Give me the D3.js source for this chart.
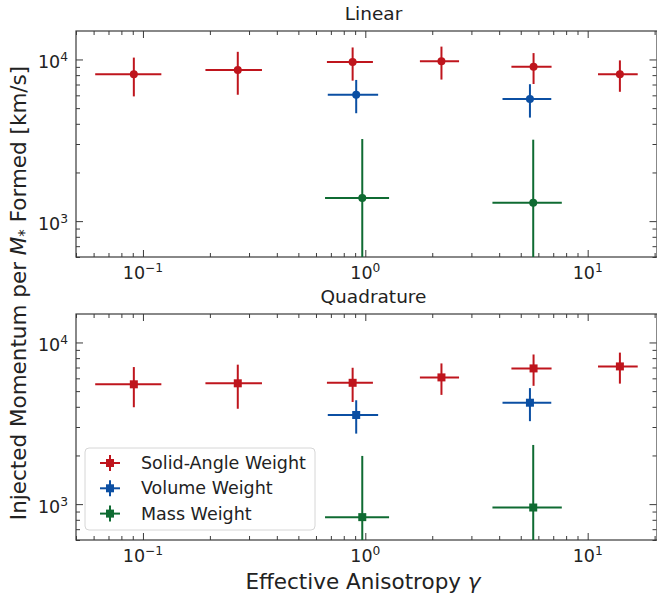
<!DOCTYPE html>
<html>
<head>
<meta charset="utf-8">
<script src="https://cdn.jsdelivr.net/npm/d3@7"></script>
<style>
  html, body { margin: 0; padding: 0; background: #fff; }
  svg { display: block; font-family: "DejaVu Sans", sans-serif; }
</style>
</head>
<body>
<svg id="chart" width="657" height="595"></svg>
<script>
// Effective anisotropy (x) with symmetric linear errors, shared by both panels
const solidX = [0.091, 0.267, 0.877, 2.20, 5.71, 13.96];
const solidXErr = [0.030, 0.076, 0.205, 0.44, 1.17, 2.83];
const volumeX = [0.910, 5.50];
const volumeXErr = [0.232, 1.36];
const massX = [0.969, 5.69];
const massXErr = [0.31, 1.96];

// Injected momentum per stellar mass formed [km/s], linear combination
const linearSolidY = [8090, 8600, 9630, 9760, 9000, 8090];
const linearSolidYErr = [2180, 2550, 2235, 2250, 1950, 1780];
const linearVolumeY = [6060, 5700];
const linearVolumeYErr = [1410, 1330];
const linearMassY = [1390, 1300];
const linearMassYErr = [1830, 1890];

// Same quantity, quadrature combination
const quadSolidY = [5510, 5590, 5630, 6080, 6910, 7110];
const quadSolidYErr = [1535, 1700, 1345, 1340, 1517, 1545];
const quadVolumeY = [3560, 4240];
const quadVolumeYErr = [830, 980];
const quadMassY = [831, 953];
const quadMassYErr = [1156, 1370];

const seriesNames = ["Solid-Angle Weight", "Volume Weight", "Mass Weight"];
const seriesColors = ["#bf151d", "#0b4fa3", "#0f6b32"];
const panelTitles = ["Linear", "Quadrature"];
const xDecades = [0.1, 1, 10];
const xDecadeExp = ["\u22121", "0", "1"];
const yDecades = [1000, 10000];
const yDecadeExp = ["3", "4"];
const xLim = [0.05, 20.5];
const yLim = [600, 15000];

const svg = d3.select("#chart");
const left = 76, right = 657;
const panels = [
  { top: 31, bottom: 257, marker: "circle",
    ys: [linearSolidY, linearVolumeY, linearMassY],
    yerrs: [linearSolidYErr, linearVolumeYErr, linearMassYErr] },
  { top: 314, bottom: 540, marker: "square",
    ys: [quadSolidY, quadVolumeY, quadMassY],
    yerrs: [quadSolidYErr, quadVolumeYErr, quadMassYErr] }
];
const xsAll = [solidX, volumeX, massX];
const xerrAll = [solidXErr, volumeXErr, massXErr];

const x = d3.scaleLog().domain(xLim).range([left, right]);

// minor ticks for a log axis: 2..9 times each decade inside the limits
function minorTicks(lo, hi) {
  const out = [];
  for (let e = Math.floor(Math.log10(lo)); e <= Math.ceil(Math.log10(hi)); e++) {
    for (let m = 2; m <= 9; m++) {
      const v = m * Math.pow(10, e);
      if (v >= lo && v <= hi) out.push(v);
    }
  }
  return out;
}
const xMinor = minorTicks(xLim[0], xLim[1]);
const yMinor = minorTicks(yLim[0], yLim[1]);
const spine = "#3a3a3a";

function powLabel(sel, base, exp, size) {
  sel.append("tspan").text(base);
  sel.append("tspan").attr("dy", -size * 0.42).attr("font-size", size * 0.7).text(exp);
}

panels.forEach((p, pi) => {
  const y = d3.scaleLog().domain(yLim).range([p.bottom, p.top]);
  const g = svg.append("g");
  const clipId = "clip" + pi;
  svg.append("clipPath").attr("id", clipId)
    .append("rect").attr("x", left).attr("y", p.top)
    .attr("width", right - left).attr("height", p.bottom - p.top);

  // ticks (inward on all four sides)
  const axes = [
    [d3.axisBottom(x), p.bottom, xDecades, xMinor],
    [d3.axisTop(x), p.top, xDecades, xMinor]
  ];
  axes.forEach(([ax, pos, major, minor]) => {
    const a1 = g.append("g").attr("transform", `translate(0,${pos})`)
      .call(ax.tickValues(major).tickSize(-7).tickFormat(""));
    const a2 = g.append("g").attr("transform", `translate(0,${pos})`)
      .call(ax.tickValues(minor).tickSize(-4).tickFormat(""));
    [a1, a2].forEach(a => { a.select(".domain").remove(); a.selectAll("line").attr("stroke", spine).attr("stroke-width", 1); });
  });
  const yaxes = [
    [d3.axisLeft(y), left],
    [d3.axisRight(y), right - 0.5]
  ];
  yaxes.forEach(([ax, pos]) => {
    const a1 = g.append("g").attr("transform", `translate(${pos},0)`)
      .call(ax.tickValues(yDecades).tickSize(-7).tickFormat(""));
    const a2 = g.append("g").attr("transform", `translate(${pos},0)`)
      .call(ax.tickValues(yMinor).tickSize(-4).tickFormat(""));
    [a1, a2].forEach(a => { a.select(".domain").remove(); a.selectAll("line").attr("stroke", spine).attr("stroke-width", 1); });
  });

  // spines
  g.append("rect").attr("x", left).attr("y", p.top)
    .attr("width", right - left).attr("height", p.bottom - p.top)
    .attr("fill", "none").attr("stroke", spine).attr("stroke-width", 1.2);

  // tick labels
  xDecades.forEach((v, i) => {
    const t = g.append("text").attr("x", x(v)).attr("y", p.bottom + 22)
      .attr("text-anchor", "middle").attr("font-size", 17.5).attr("fill", "#222");
    powLabel(t, "10", xDecadeExp[i], 17.5);
  });
  yDecades.forEach((v, i) => {
    const t = g.append("text").attr("x", left - 8).attr("y", y(v) + 9)
      .attr("text-anchor", "end").attr("font-size", 17.5).attr("fill", "#222");
    powLabel(t, "10", yDecadeExp[i], 17.5);
  });

  // title
  g.append("text").attr("x", (left + right) / 2 + 7).attr("y", p.top - 11)
    .attr("text-anchor", "middle").attr("font-size", 18.5).attr("fill", "#222")
    .text(panelTitles[pi]);

  // error bars and markers
  const plot = g.append("g").attr("clip-path", `url(#${clipId})`);
  xsAll.forEach((xs, si) => {
    const col = seriesColors[si];
    const pts = xs.map((xv, k) => ({
      x: xv, xe: xerrAll[si][k], y: p.ys[si][k], ye: p.yerrs[si][k]
    }));
    const sg = plot.append("g");
    sg.selectAll("line.h").data(pts).join("line")
      .attr("x1", d => x(d.x - d.xe)).attr("x2", d => x(d.x + d.xe))
      .attr("y1", d => y(d.y)).attr("y2", d => y(d.y))
      .attr("stroke", col).attr("stroke-width", 2);
    sg.selectAll("line.v").data(pts).join("line")
      .attr("x1", d => x(d.x)).attr("x2", d => x(d.x))
      .attr("y1", d => (d.y - d.ye > 0 ? y(d.y - d.ye) : p.bottom + 5))
      .attr("y2", d => y(d.y + d.ye))
      .attr("stroke", col).attr("stroke-width", 2);
    if (p.marker === "circle") {
      sg.selectAll("circle").data(pts).join("circle")
        .attr("cx", d => x(d.x)).attr("cy", d => y(d.y)).attr("r", 4)
        .attr("fill", col);
    } else {
      sg.selectAll("rect").data(pts).join("rect")
        .attr("x", d => x(d.x) - 4).attr("y", d => y(d.y) - 4)
        .attr("width", 8).attr("height", 8).attr("fill", col);
    }
  });
});

// legend in the lower panel
const lg = svg.append("g");
lg.append("rect").attr("x", 85).attr("y", 448).attr("width", 230).attr("height", 82)
  .attr("rx", 4).attr("fill", "#fff").attr("fill-opacity", 0.85)
  .attr("stroke", "#d6d6d6").attr("stroke-width", 1);
seriesNames.forEach((name, i) => {
  const cy = 463 + i * 25.3, cx = 110, col = seriesColors[i];
  lg.append("line").attr("x1", cx - 10).attr("x2", cx + 10).attr("y1", cy).attr("y2", cy)
    .attr("stroke", col).attr("stroke-width", 2);
  lg.append("line").attr("x1", cx).attr("x2", cx).attr("y1", cy - 8).attr("y2", cy + 8)
    .attr("stroke", col).attr("stroke-width", 2);
  lg.append("rect").attr("x", cx - 4).attr("y", cy - 4).attr("width", 8).attr("height", 8)
    .attr("fill", col);
  lg.append("text").attr("x", 141).attr("y", cy + 6).attr("font-size", 17.5)
    .attr("fill", "#222").text(name);
});

// axis labels
const xl = svg.append("text").attr("x", 363).attr("y", 589)
  .attr("text-anchor", "middle").attr("font-size", 21.5).attr("fill", "#222");
xl.append("tspan").text("Effective Anisotropy ");
xl.append("tspan").attr("font-style", "italic").text("\u03b3");

const yl = svg.append("text").attr("transform", "translate(26,293) rotate(-90)")
  .attr("text-anchor", "middle").attr("font-size", 21.5).attr("fill", "#222");
yl.append("tspan").text("Injected Momentum per ");
yl.append("tspan").attr("font-style", "italic").text("M");
yl.append("tspan").attr("dy", 4).attr("font-size", 15).attr("font-style", "italic").text("*");
yl.append("tspan").attr("dy", -4).text(" Formed [km/s]");
</script>
</body>
</html>
